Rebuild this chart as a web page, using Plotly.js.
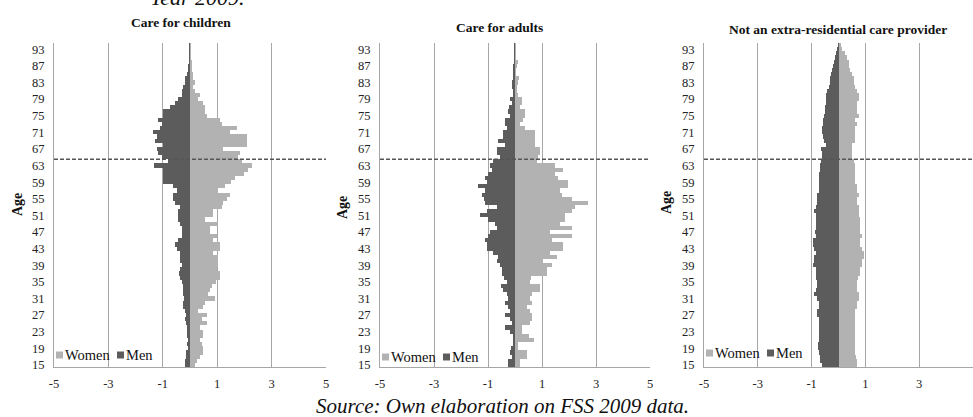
<!DOCTYPE html>
<html><head><meta charset="utf-8">
<script src="https://cdn.plot.ly/plotly-3.0.1.min.js"></script>
<style>html,body{margin:0;padding:0;background:#fff}#chart{width:973px;height:417px}</style>
</head><body><div id="chart"></div>
<script>
// Age categories (bottom to top)
const ages = ['15','16','17','18','19','20','21','22','23','24','25','26','27','28','29','30','31','32','33','34','35','36','37','38','39','40','41','42','43','44','45','46','47','48','49','50','51','52','53','54','55','56','57','58','59','60','61','62','63','64','65','66','67','68','69','70','71','72','73','74','75','76','77','78','79','80','81','82','83','84','85','86','87','88','89','91','93','95'];

// Care for children
const childrenWomen = [0.18,0.25,0.37,0.49,0.49,0.43,0.37,0.49,0.49,0.37,0.61,0.43,0.61,0.31,0.49,0.55,0.92,0.67,0.74,0.8,0.95,1.1,1.1,1.0,1.04,1.04,1.04,0.86,1.1,1.1,0.86,0.98,0.74,0.74,1.04,0.55,0.86,0.86,1.16,1.23,1.35,1.47,1.04,1.29,1.5,1.65,2.0,2.14,2.27,1.9,1.75,1.84,1.23,2.08,2.08,2.08,1.47,1.72,1.16,1.1,0.61,0.55,0.55,0.49,0.3,0.37,0.18,0.1,0.18,0.12,0.12,0.08,0.06,0.06,0.05,0.04,0.03,0.02];
const childrenMen = [-0.18,-0.18,-0.15,-0.15,-0.06,-0.1,-0.08,-0.12,-0.1,-0.12,-0.15,-0.18,-0.15,-0.18,-0.25,-0.27,-0.22,-0.25,-0.27,-0.25,-0.3,-0.35,-0.4,-0.37,-0.3,-0.37,-0.37,-0.37,-0.49,-0.55,-0.43,-0.3,-0.3,-0.3,-0.37,-0.43,-0.43,-0.43,-0.37,-0.55,-0.64,-0.64,-0.49,-0.61,-1.0,-1.0,-1.0,-0.98,-1.32,-0.8,-1.04,-1.16,-1.23,-0.98,-1.29,-1.23,-1.35,-1.1,-1.04,-1.16,-0.98,-0.98,-0.74,-0.55,-0.43,-0.3,-0.3,-0.25,-0.18,-0.18,-0.1,-0.06,-0.06,-0.05,-0.04,-0.03,-0.03,-0.02];

// Care for adults
const adultsWomen = [0.19,0.19,0.43,0.43,0.12,0.12,0.72,0.5,0.25,0.25,0.56,0.62,0.62,0.56,0.43,0.62,0.56,0.62,0.93,0.93,0.56,0.6,1.17,1.17,1.36,1.05,1.55,1.3,1.79,1.79,1.36,2.1,1.3,2.1,1.67,1.85,1.85,2.1,2.22,2.69,2.1,1.73,1.67,1.98,1.98,1.6,1.48,1.79,1.48,0.8,0.86,0.93,0.93,0.74,0.74,0.74,0.74,0.37,0.19,0.31,0.37,0.37,0.19,0.25,0.25,0.12,0.06,0.06,0.1,0.15,0.05,0.05,0.06,0.1,0.03,0.03,0.02,0.02];
const adultsMen = [-0.27,-0.25,-0.1,-0.19,-0.15,-0.08,-0.06,-0.09,-0.19,-0.37,-0.1,-0.19,-0.37,-0.19,-0.25,-0.37,-0.27,-0.31,-0.43,-0.52,-0.31,-0.4,-0.49,-0.49,-0.55,-0.68,-0.62,-0.8,-1.05,-1.05,-1.11,-0.99,-0.93,-0.68,-0.74,-0.99,-1.3,-1.05,-0.65,-1.1,-1.14,-1.21,-1.11,-1.38,-1.05,-1.11,-0.99,-0.86,-0.93,-0.8,-0.56,-0.68,-0.68,-0.37,-0.62,-0.43,-0.43,-0.3,-0.37,-0.37,-0.19,-0.27,-0.22,-0.12,-0.19,-0.06,-0.06,-0.1,-0.1,-0.09,-0.09,-0.06,-0.06,-0.04,-0.04,-0.03,-0.03,-0.02];

// Not an extra-residential care provider
const noneWomen = [0.69,0.69,0.65,0.63,0.63,0.6,0.6,0.6,0.6,0.6,0.6,0.63,0.63,0.63,0.69,0.69,0.75,0.75,0.69,0.69,0.69,0.72,0.81,0.81,0.88,0.88,0.94,0.94,0.88,0.81,0.81,0.88,0.81,0.81,0.81,0.81,0.75,0.75,0.75,0.69,0.69,0.75,0.69,0.69,0.63,0.63,0.63,0.63,0.63,0.57,0.5,0.5,0.5,0.5,0.63,0.6,0.63,0.63,0.69,0.63,0.75,0.69,0.69,0.69,0.75,0.75,0.69,0.63,0.57,0.57,0.5,0.44,0.38,0.38,0.32,0.26,0.14,0.1];
const noneMen = [-0.6,-0.67,-0.67,-0.73,-0.76,-0.76,-0.73,-0.73,-0.73,-0.73,-0.73,-0.73,-0.81,-0.79,-0.73,-0.73,-0.79,-0.91,-0.85,-0.79,-0.79,-0.85,-0.85,-0.85,-0.94,-0.91,-0.91,-0.85,-0.91,-0.94,-0.94,-0.85,-0.89,-0.85,-0.85,-0.85,-0.85,-0.91,-0.85,-0.79,-0.79,-0.79,-0.73,-0.73,-0.73,-0.73,-0.73,-0.69,-0.69,-0.64,-0.6,-0.6,-0.64,-0.48,-0.54,-0.57,-0.6,-0.6,-0.57,-0.57,-0.54,-0.52,-0.52,-0.48,-0.48,-0.48,-0.44,-0.36,-0.32,-0.3,-0.27,-0.23,-0.2,-0.17,-0.14,-0.11,-0.06,-0.03];

const xTickVals = [-5,-3,-1,1,3,5];
const xTickText = ['-5','-3','-1','1','3','5'];
const panelTitles = ['Care for children','Care for adults','Not an extra-residential care provider'];
const seriesNames = ['Women','Men'];
const retirementAge = '65';

const W = 973, H = 417;
const px = x => x / W, py = y => 1 - y / H;
const yIdx = ages.map((_, i) => i);
const tickIdx = yIdx.filter(i => i % 4 === 0);
const FONT = 'Liberation Serif';
const WOMEN_C = '#b2b2b2', MEN_C = '#5c5c5c', GRID_C = '#a6a6a6';

const panels = [
  {w: childrenWomen, m: childrenMen, x0: 54, x1: 326, tx: 181, ty: 23, ax: 17, ay: 205, ly: 355},
  {w: adultsWomen, m: adultsMen, x0: 380, x1: 650, tx: 499, ty: 27, ax: 342, ay: 208, ly: 357},
  {w: noneWomen, m: noneMen, x0: 704, x1: 973, tx: 838, ty: 29, ax: 666, ay: 203, ly: 353}
];

const data = [], shapes = [], annotations = [];
const layout = {
  width: W, height: H, margin: {l: 0, r: 0, t: 0, b: 0},
  paper_bgcolor: '#fff', plot_bgcolor: '#fff',
  barmode: 'relative', bargap: 0, showlegend: false,
  font: {family: FONT, color: '#222'}
};

panels.forEach((p, k) => {
  const sfx = k === 0 ? '' : String(k + 1);
  const xa = 'x' + sfx, ya = 'y' + sfx;
  data.push({type: 'bar', orientation: 'h', name: seriesNames[0], x: p.w, y: yIdx, width: 1,
    marker: {color: WOMEN_C, line: {width: 0}}, xaxis: xa, yaxis: ya, hoverinfo: 'x+name'});
  data.push({type: 'bar', orientation: 'h', name: seriesNames[1], x: p.m, y: yIdx, width: 1,
    marker: {color: MEN_C, line: {width: 0}}, xaxis: xa, yaxis: ya, hoverinfo: 'x+name'});
  layout['xaxis' + sfx] = {
    domain: [px(p.x0), px(p.x1)], range: [-5, 5], anchor: ya,
    tickmode: 'array', tickvals: xTickVals, ticktext: xTickText,
    showgrid: true, gridcolor: GRID_C, gridwidth: 1,
    zeroline: true, zerolinecolor: '#9a9a9a', zerolinewidth: 1,
    showline: true, linecolor: GRID_C, linewidth: 1, ticks: '',
    ticklabelstandoff: 5, tickfont: {family: FONT, size: 12.5, color: '#222'}, fixedrange: true
  };
  layout['yaxis' + sfx] = {
    domain: [py(367), py(43)], range: [-0.5, ages.length - 0.5], anchor: xa,
    tickmode: 'array', tickvals: tickIdx, ticktext: tickIdx.map(i => ages[i]),
    showgrid: false, zeroline: false, showline: true, linecolor: GRID_C, linewidth: 1,
    ticks: '', ticklabelstandoff: 6, tickfont: {family: FONT, size: 12.5, color: '#222'}, fixedrange: true
  };
  const yr = ages.indexOf(retirementAge) - 0.5;
  shapes.push({type: 'line', xref: xa + ' domain', yref: ya, x0: 0, x1: 1, y0: yr, y1: yr,
    line: {color: '#555', width: 1.5, dash: '4px,2px'}});
  annotations.push({xref: 'paper', yref: 'paper', x: px(p.tx), y: py(p.ty), text: '<b>' + panelTitles[k] + '</b>',
    showarrow: false, xanchor: 'center', yanchor: 'middle', font: {family: FONT, size: 13.5, color: '#111'}});
  annotations.push({xref: 'paper', yref: 'paper', x: px(p.ax), y: py(p.ay), text: '<b>Age</b>', textangle: -90,
    showarrow: false, xanchor: 'center', yanchor: 'middle', font: {family: FONT, size: 14, color: '#111'}});
  // legend (manual, compact like the original)
  const lx = p.x0;
  shapes.push({type: 'rect', xref: 'paper', yref: 'paper', x0: px(lx + 2), x1: px(lx + 9), y0: py(p.ly + 3.5), y1: py(p.ly - 3.5),
    fillcolor: WOMEN_C, line: {width: 0}});
  shapes.push({type: 'rect', xref: 'paper', yref: 'paper', x0: px(lx + 63), x1: px(lx + 70), y0: py(p.ly + 3.5), y1: py(p.ly - 3.5),
    fillcolor: MEN_C, line: {width: 0}});
  annotations.push({xref: 'paper', yref: 'paper', x: px(lx + 9), y: py(p.ly), text: seriesNames[0], showarrow: false,
    xanchor: 'left', yanchor: 'middle', font: {family: FONT, size: 14.5, color: '#111'}});
  annotations.push({xref: 'paper', yref: 'paper', x: px(lx + 70), y: py(p.ly), text: seriesNames[1], showarrow: false,
    xanchor: 'left', yanchor: 'middle', font: {family: FONT, size: 14.5, color: '#111'}});
});

annotations.push({xref: 'paper', yref: 'paper', x: px(197), y: py(-3), text: '<i>Year 2009.</i>', showarrow: false,
  xanchor: 'center', yanchor: 'middle', font: {family: FONT, size: 22, color: '#111'}});
annotations.push({xref: 'paper', yref: 'paper', x: px(502), y: py(406), text: '<i>Source: Own elaboration on FSS 2009 data.</i>', showarrow: false,
  xanchor: 'center', yanchor: 'middle', font: {family: FONT, size: 21, color: '#111'}});

layout.shapes = shapes;
layout.annotations = annotations;
Plotly.newPlot('chart', data, layout, {displayModeBar: false, staticPlot: true});
</script></body></html>
